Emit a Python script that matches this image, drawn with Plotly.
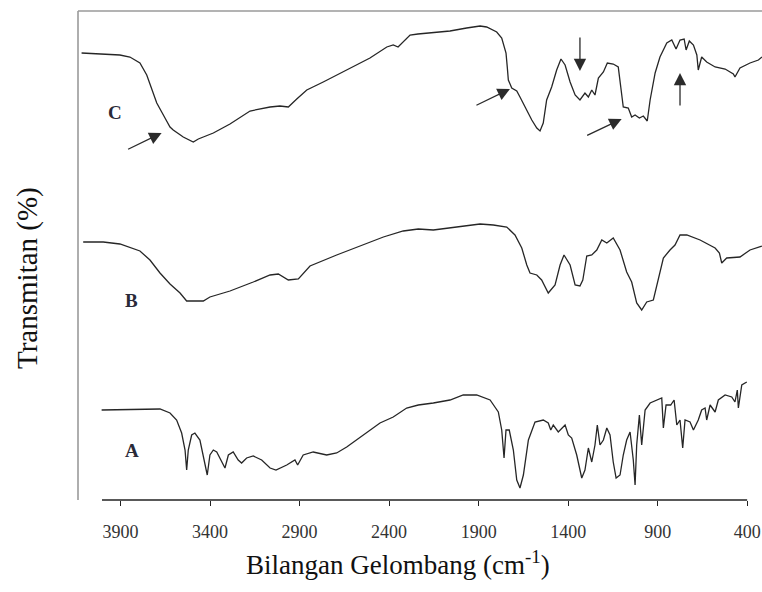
import plotly.graph_objects as go

# Wavenumbers (cm-1) and transmittance (arbitrary, offset)
wn_C = [4118, 3904, 3848, 3792, 3754, 3726, 3698, 3652, 3624, 3606, 3550, 3494, 3466, 3382, 3289, 3177,
        3065, 3010, 2963, 2916, 2860, 2768, 2693, 2600, 2507, 2413, 2377, 2350, 2322, 2283, 2239, 2060,
        1967, 1892, 1855, 1799, 1771, 1747, 1740, 1734, 1715, 1687, 1669, 1641, 1603, 1575, 1557, 1539,
        1520, 1492, 1464, 1440, 1417, 1389, 1361, 1334, 1306, 1287, 1268, 1250, 1231, 1203, 1181, 1148,
        1120, 1106, 1092, 1064, 1045, 1026, 1002, 980, 958, 942, 914, 887, 849, 821, 797, 775, 752, 741,
        723, 700, 681, 673, 654, 626, 579, 523, 477, 468, 440, 384, 337, 317]
tr_C = [447, 445, 443, 437, 425, 410, 397, 382, 373, 370, 363, 358, 361, 367, 376, 389,
        393, 394, 393, 401, 410, 418, 425, 434, 442, 453, 455, 453, 458, 465, 466, 469,
        472, 474, 473, 468, 462, 447, 433, 420, 412, 409, 403, 393, 380, 372, 369, 377,
        400, 413, 430, 441, 435, 418, 405, 400, 407, 403, 410, 405, 422, 428, 437, 436,
        433, 413, 393, 392, 383, 385, 382, 384, 379, 400, 427, 443, 457, 460, 451, 460, 461, 450,
        459, 455, 445, 430, 443, 438, 433, 431, 426, 423, 432, 437, 440, 443]

wn_B = [4109, 3997, 3904, 3792, 3736, 3680, 3624, 3568, 3531, 3438, 3401, 3289, 3159, 3065, 3019, 2963,
        2907, 2842, 2693, 2544, 2432, 2321, 2237, 2153, 2004, 1892, 1818, 1743, 1697, 1659, 1631, 1613,
        1575, 1548, 1511, 1473, 1445, 1423, 1389, 1361, 1334, 1318, 1296, 1268, 1240, 1212, 1184, 1148,
        1110, 1073, 1045, 1017, 989, 961, 924, 896, 868, 831, 803, 775, 737, 663, 579, 555, 542, 514,
        440, 384, 318]
tr_B = [258, 258, 256, 249, 240, 227, 216, 207, 199, 199, 203, 209, 218, 225, 226, 220,
        221, 234, 245, 255, 263, 269, 271, 270, 273, 276, 275, 273, 265, 252, 235, 227,
        225, 220, 207, 215, 235, 245, 235, 215, 214, 220, 244, 245, 250, 260, 257, 262,
        250, 228, 218, 197, 190, 198, 200, 220, 242, 250, 255, 265, 265, 260, 252, 247, 237, 242,
        243, 250, 254]

wn_A = [4006, 3810, 3680, 3624, 3587, 3559, 3540, 3531, 3522, 3503, 3485, 3457, 3438, 3416, 3401, 3382,
        3363, 3335, 3317, 3298, 3271, 3243, 3224, 3196, 3159, 3112, 3065, 3032, 2972, 2926, 2911, 2880,
        2824, 2749, 2693, 2637, 2544, 2451, 2377, 2302, 2237, 2153, 2060, 1986, 1911, 1836, 1790, 1771,
        1758, 1747, 1729, 1706, 1687, 1669, 1650, 1622, 1585, 1539, 1511, 1497, 1483, 1455, 1417, 1399,
        1380, 1352, 1324, 1306, 1287, 1268, 1250, 1237, 1222, 1203, 1184, 1166, 1148, 1132, 1110, 1092,
        1073, 1054, 1036, 1026, 1017, 1002, 989, 970, 942, 905, 877, 868, 853, 827, 808, 793, 775, 760,
        747, 719, 700, 673, 654, 635, 626, 607, 579, 561, 523, 486, 468, 455, 449, 430, 402]
tr_A = [90, 91, 91, 87, 80, 67, 50, 30, 50, 65, 67, 60, 45, 25, 45, 50,
        48, 38, 32, 45, 48, 40, 37, 42, 44, 40, 32, 30, 35, 40, 35, 45,
        48, 45, 47, 53, 65, 77, 83, 92, 95, 97, 100, 105, 105, 100, 88, 70,
        42, 70, 70, 50, 20, 12, 25, 60, 78, 80, 77, 70, 75, 68, 75, 65,
        62, 45, 22, 30, 52, 38, 55, 75, 55, 60, 72, 65, 38, 22, 25, 45,
        60, 68, 40, 15, 55, 85, 55, 90, 97, 100, 102, 72, 95, 95, 100, 75, 80, 52,
        80, 78, 70, 80, 90, 92, 80, 95, 88, 100, 105, 103, 98, 110, 92, 115, 118]

tick_vals = [3900, 3400, 2900, 2400, 1900, 1400, 900, 400]
tick_text = ["3900", "3400", "2900", "2400", "1900", "1400", "900", "400"]

series_labels = ["C", "B", "A"]
label_pos = [(3932, 388), (3838, 200), (3838, 50)]

# arrows: tip (wavenumber, transmittance), tail offset in pixels
arrows = [(3671, 367, -35, 17), (1725, 411, -35, 17), (1334, 429, 0, -35),
          (1101, 381, -36, 17), (775, 427, 0, 34)]

SERIF = "Liberation Serif, Times New Roman, serif"
line_col = "#262626"

fig = go.Figure()
for wn, tr in [(wn_C, tr_C), (wn_B, tr_B), (wn_A, tr_A)]:
    fig.add_trace(go.Scatter(x=wn, y=tr, mode="lines",
                             line=dict(color=line_col, width=1.3), showlegend=False,
                             hoverinfo="skip"))

annotations = []
for lab, (lx, ly) in zip(series_labels, label_pos):
    annotations.append(dict(x=lx, y=ly, xref="x", yref="y", text="<b>%s</b>" % lab,
                            showarrow=False, xanchor="center", yanchor="middle",
                            font=dict(family=SERIF, size=19, color="#2a2a38")))
for (tx, ty, ax, ay) in arrows:
    annotations.append(dict(x=tx, y=ty, xref="x", yref="y", text="", showarrow=True,
                            ax=ax, ay=ay, arrowhead=2, arrowsize=1.9, arrowwidth=1.3,
                            arrowcolor="#2b2b2b"))
annotations.append(dict(x=0.468, y=-0.129, xref="paper", yref="paper",
                        xanchor="center", yanchor="middle",
                        text="Bilangan Gelombang (cm<sup>-1</sup>)", showarrow=False,
                        font=dict(family=SERIF, size=27, color="#111")))
annotations.append(dict(x=-0.0731, y=0.454, xref="paper", yref="paper",
                        xanchor="center", yanchor="middle",
                        text="Transmitan (%)", textangle=-90, showarrow=False,
                        font=dict(family=SERIF, size=29, color="#111")))

shapes = [
    dict(type="line", xref="paper", yref="paper", x0=0, x1=1, y0=1, y1=1,
         line=dict(color="#9a9a9a", width=1.6)),
    dict(type="line", xref="paper", yref="paper", x0=0, x1=0, y0=0, y1=1,
         line=dict(color="#9a9a9a", width=1.6)),
    dict(type="line", xref="x", yref="paper", x0=4004, x1=400, y0=0, y1=0,
         line=dict(color="#222", width=1.3)),
]

fig.update_layout(
    width=762, height=592,
    margin=dict(l=78, r=0, t=11, b=92),
    paper_bgcolor="white", plot_bgcolor="white",
    xaxis=dict(range=[4138, 317], tickvals=tick_vals, ticktext=tick_text,
               ticks="outside", ticklen=5, tickwidth=1.3, tickcolor="#222",
               showgrid=False, zeroline=False, showline=False,
               ticklabelstandoff=10,
               tickfont=dict(family=SERIF, size=18, color="#333")),
    yaxis=dict(range=[0, 489], showticklabels=False, ticks="", showgrid=False,
               zeroline=False, showline=False),
    annotations=annotations, shapes=shapes,
)

fig.write_html("out.html")
